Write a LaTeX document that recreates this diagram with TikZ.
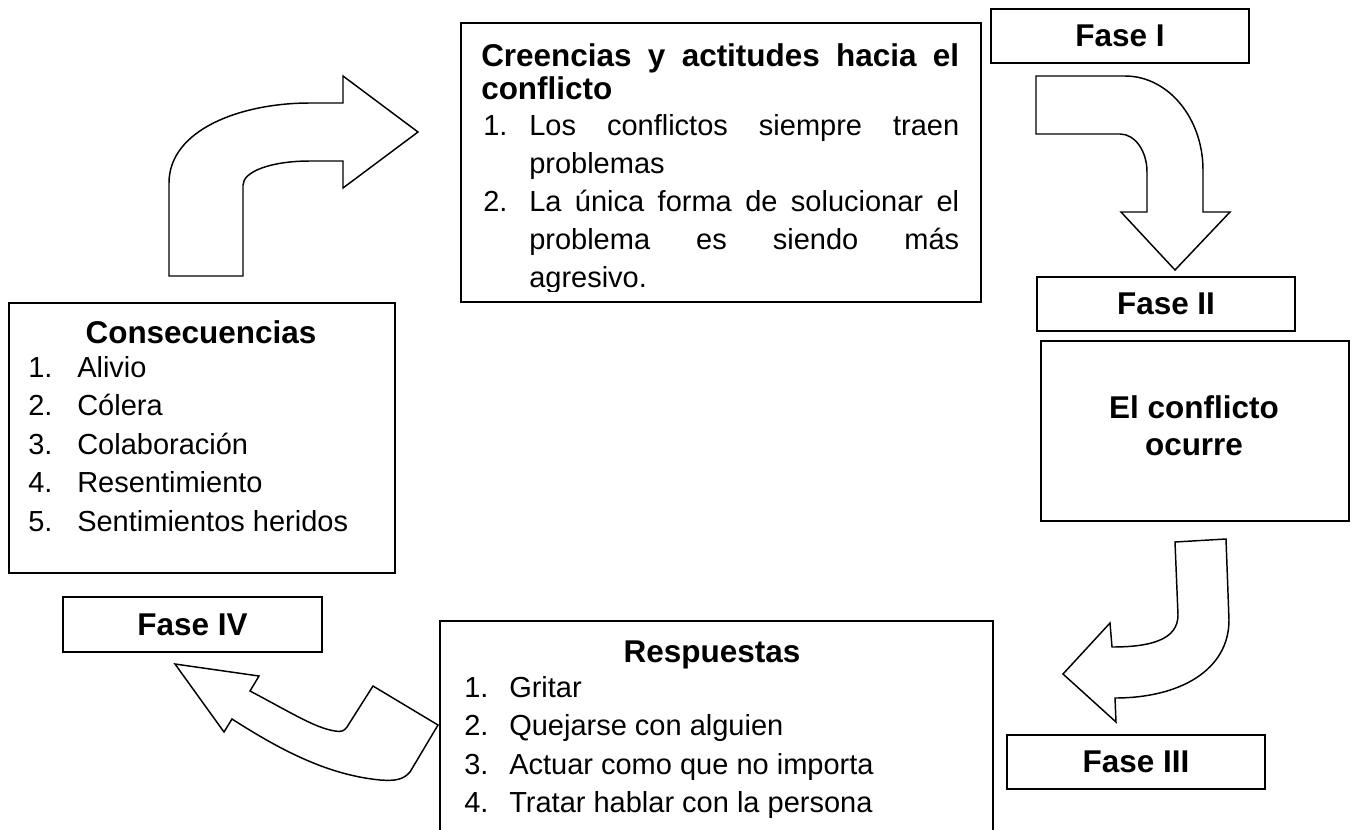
\documentclass[tikz,border=0pt]{standalone}
\usepackage{fontspec}
\setmainfont{Liberation Sans}
\newcommand\bodyfont{\fontsize{21.75pt}{28.9pt}\selectfont}
\newcommand\headfont{\fontsize{23.6pt}{27.75pt}\selectfont\bfseries}
\begin{document}
\begin{tikzpicture}[x=0.75pt,y=-0.75pt,
  box/.style={draw, line width=1.5pt, inner sep=0pt, anchor=north west, font=\headfont, align=center},
  txt/.style={inner sep=0pt, anchor=base west, font=\bodyfont},
  num/.style={inner sep=0pt, anchor=base west, font=\bodyfont},
  head/.style={inner sep=0pt, anchor=base, font=\headfont},
  headw/.style={inner sep=0pt, anchor=base west, font=\headfont},
  blockarrow/.style={draw, line width=1.1pt, fill=white, line join=miter}]
\clip (0,0) rectangle (1354,829);
\fill[white] (0,0) rectangle (1354,829);

% block arrows
\draw[blockarrow] (169,276) -- (169,183) .. controls (169,130) and (240,103) .. (310,103)
  -- (343,103) -- (343,76) -- (418,132) -- (343,188) -- (343,161) -- (310,161)
  .. controls (270,161) and (243,172) .. (243,185) -- (243,276) -- cycle;
\draw[blockarrow] (1036,76) -- (1125,76) .. controls (1168,76) and (1203,118) .. (1203,170)
  -- (1203,212) -- (1230,212) -- (1175,270) -- (1121,212) -- (1147,212) -- (1147,172)
  .. controls (1147,151) and (1135,134) .. (1120,134) -- (1036,134) -- cycle;
\draw[blockarrow] (1175,542) -- (1226,539) -- (1229,620) .. controls (1229,670) and (1180,698) .. (1115,698)
  -- (1116,722) -- (1063,674) -- (1110,623) -- (1112,647)
  .. controls (1150,647) and (1178,640) .. (1178,615) -- cycle;
\draw[blockarrow] (438,725) -- (410,772) .. controls (403,780) and (395,781) .. (380,780)
  .. controls (330,775) and (285,753) .. (232,719) -- (224,732) -- (175,664) -- (259,676) -- (250,691)
  .. controls (290,712) and (315,728) .. (335,731) .. controls (342,732) and (344,731) .. (347,727)
  -- (373,686) -- cycle;

% boxes
\node[box, minimum width=0.75pt*258, minimum height=0.75pt*54] (fase1) at (990,8) {Fase I};
\node[box, minimum width=0.75pt*520, minimum height=0.75pt*279] (creencias) at (460,22) {};
\node[box, minimum width=0.75pt*258, minimum height=0.75pt*54] (fase2) at (1036,276) {Fase II};
\node[box, minimum width=0.75pt*308, minimum height=0.75pt*180] (ocurre) at (1040,340) {};
\node[box, minimum width=0.75pt*258, minimum height=0.75pt*54] (fase3) at (1006,734) {Fase III};
\node[box, minimum width=0.75pt*553, minimum height=0.75pt*260] (respuestas) at (439,620) {};
\node[box, minimum width=0.75pt*386, minimum height=0.75pt*270] (consecuencias) at (8,302) {};
\node[box, minimum width=0.75pt*259, minimum height=0.75pt*55] (fase4) at (62,596) {Fase IV};

% El conflicto ocurre
\node[head] (oc1) at (1194,418) {El conflicto};
\node[head] (oc2) at (1194,455) {ocurre};

% Creencias text
\node[headw] (cr1) at (481,66) {\hbox to 358.5pt{Creencias\hfill y\hfill actitudes\hfill hacia\hfill el}};
\node[headw] (cr2) at (481,99) {conflicto};
\node[num] (crn1) at (483,135) {1.};
\node[txt] (cri1) at (529,135) {\hbox to 322.5pt{Los\hfill conflictos\hfill siempre\hfill traen}};
\node[txt] (cri1b) at (529,173) {problemas};
\node[num] (crn2) at (483,211) {2.};
\node[txt] (cri2) at (529,211) {\hbox to 322.5pt{La\hfill única\hfill forma\hfill de\hfill solucionar\hfill el}};
\node[txt] (cri2b) at (529,249) {\hbox to 322.5pt{problema\hfill es\hfill siendo\hfill más}};
\begin{scope}
\clip (460,22) rectangle (980,291);
\node[txt] (cri2c) at (529,287) {agresivo.};
\end{scope}

% Consecuencias text
\node[head] (cot) at (201,343) {Consecuencias};
\node[num] (con1) at (28,377) {1.};
\node[txt] (coi1) at (77,377) {Alivio};
\node[num] (con2) at (28,415.5) {2.};
\node[txt] (coi2) at (77,415.5) {Cólera};
\node[num] (con3) at (28,454) {3.};
\node[txt] (coi3) at (77,454) {Colaboración};
\node[num] (con4) at (28,492.5) {4.};
\node[txt] (coi4) at (77,492.5) {Resentimiento};
\node[num] (con5) at (28,531) {5.};
\node[txt] (coi5) at (77,531) {Sentimientos heridos};

% Respuestas text
\node[head] (ret) at (712,662) {Respuestas};
\node[num] (ren1) at (464,697) {1.};
\node[txt] (rei1) at (509,697) {Gritar};
\node[num] (ren2) at (464,735.5) {2.};
\node[txt] (rei2) at (509,735.5) {Quejarse con alguien};
\node[num] (ren3) at (464,774) {3.};
\node[txt] (rei3) at (509,774) {Actuar como que no importa};
\node[num] (ren4) at (464,812.5) {4.};
\node[txt] (rei4) at (509,812.5) {Tratar hablar con la persona};
\end{tikzpicture}
\end{document}
